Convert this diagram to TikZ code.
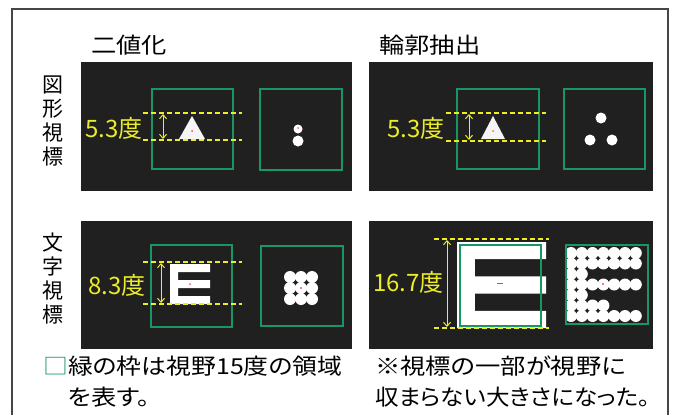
\documentclass[tikz,border=0pt]{standalone}
\usepackage{fontspec}
\setmainfont{Noto Sans CJK JP}[RawFeature=+palt]
\usetikzlibrary{arrows.meta}
\definecolor{panelc}{RGB}{32,32,32}
\definecolor{gfr}{RGB}{24,150,100}
\definecolor{ylw}{RGB}{236,236,40}
\definecolor{framec}{RGB}{70,70,70}
\newcommand{\wide}[2][1.15]{\scalebox{#1}[1]{#2}}
\newcommand{\letterE}[4]{\fill[white,shift={(#1,#2)},xscale=#3,yscale=#4] (0,0) -| (5,1) -| (1,2) -| (5,3) -| (1,4) -| (5,5) -| cycle;}
\tikzset{
  panel/.style={fill=panelc,draw=none,inner sep=0,anchor=north west},
  gsq/.style={draw=gfr,line width=1.8pt,inner sep=0,anchor=north west},
  head/.style={font=\fontsize{22}{26}\selectfont,anchor=west,inner sep=0},
  vlab/.style={font=\fontsize{21}{24}\selectfont,align=center,inner sep=0},
  ylab/.style={font=\fontsize{24}{28}\selectfont,text=ylw,anchor=east,inner sep=0},
  note/.style={font=\fontsize{22}{26}\selectfont,anchor=west,inner sep=0},
  ydash/.style={draw=ylw,line width=1.1pt,dash pattern=on 5pt off 3pt},
  dimarr/.style={draw=ylw,line width=1pt,{Straight Barb[length=4pt,width=7pt]}-{Straight Barb[length=4pt,width=7pt]}},
  dot/.style={fill=white},
}
\begin{document}
\begin{tikzpicture}[x=1pt,y=-1pt]
\useasboundingbox (0,0) rectangle (674,415);
\fill[white] (0,0) rectangle (674,415);
\draw[framec,line width=1.2pt] (12,415) -- (12,9) -- (668,9) -- (668,415);

% headings
\node[head] (h1) at (91,45) {\wide{二値化}};
\node[head] (h2) at (379,45) {\wide{輪郭抽出}};

% row labels
\node[vlab] (v1) at (53,121) {図\\形\\視\\標};
\node[vlab] (v2) at (53,279) {文\\字\\視\\標};

% panels
\node[panel,minimum width=271pt,minimum height=129pt] (p1) at (81,62) {};
\node[panel,minimum width=284pt,minimum height=129pt] (p2) at (369,62) {};
\node[panel,minimum width=271pt,minimum height=128pt] (p3) at (81,221) {};
\node[panel,minimum width=284pt,minimum height=128pt] (p4) at (369,221) {};

% ---------- top-left ----------
\node[gsq,minimum width=81pt,minimum height=80pt] (a1) at (151,88) {};
\node[gsq,minimum width=82pt,minimum height=81pt] (a2) at (259,88) {};
\coordinate (a1u) at (143,113); \coordinate (a1ue) at (242,113);
\coordinate (a1d) at (143,140); \coordinate (a1de) at (242,140);
\draw[ydash] (a1u) -- (a1ue);
\draw[ydash] (a1d) -- (a1de);
\coordinate (a1t) at (163,114); \coordinate (a1b) at (163,139);
\draw[dimarr] (a1t) -- (a1b);
\node[ylab] (l1) at (143,128) {5.3度};
\fill[gray!8] (179,139) -- (192,116) -- (205,139) -- cycle;
\fill[red!70] (192,131) circle (1pt);
\fill[dot] (298,129) circle (4.5pt);
\fill[dot] (298,141) circle (5.5pt);
\fill[red!60] (298,128) circle (1pt);

% ---------- top-right ----------
\node[gsq,minimum width=82pt,minimum height=80pt] (b1) at (456,88) {};
\node[gsq,minimum width=81pt,minimum height=80pt] (b2) at (563,88) {};
\coordinate (b1u) at (446,113); \coordinate (b1ue) at (546,113);
\coordinate (b1d) at (446,141); \coordinate (b1de) at (546,141);
\draw[ydash] (b1u) -- (b1ue);
\draw[ydash] (b1d) -- (b1de);
\coordinate (b1t) at (469,114); \coordinate (b1b) at (469,140);
\draw[dimarr] (b1t) -- (b1b);
\node[ylab] (l2) at (445,128) {5.3度};
\fill[gray!8] (481,139) -- (493,116) -- (505,139) -- cycle;
\fill[red!60] (493,131) circle (1pt);
\fill[dot] (601,118) circle (5.5pt);
\fill[dot] (590,140) circle (5.5pt);
\fill[dot] (612,140) circle (5.5pt);

% ---------- bottom-left ----------
\node[gsq,minimum width=81pt,minimum height=82pt] (c1) at (150,244) {};
\node[gsq,minimum width=82pt,minimum height=80pt] (c2) at (260,245) {};
\letterE{170}{264}{8}{8}
\fill[red!70] (190,284) circle (1pt);
\coordinate (c1u) at (143,262); \coordinate (c1ue) at (242,262);
\coordinate (c1d) at (143,304); \coordinate (c1de) at (242,304);
\draw[ydash] (c1u) -- (c1ue);
\draw[ydash] (c1d) -- (c1de);
\coordinate (c1t) at (161,263); \coordinate (c1b) at (161,303);
\draw[dimarr] (c1t) -- (c1b);
\node[ylab] (l3) at (146,285) {8.3度};
\foreach \i in {0,1,2} \foreach \j in {0,1,2}
  \fill[dot] (290+11*\i,277+11*\j) circle (6pt);
\fill[red!70] (301,288) circle (1.2pt);

% ---------- bottom-right ----------
\letterE{457}{242}{17.8}{17.2}
\node[gsq,minimum width=81pt,minimum height=81pt] (d1) at (459,244) {};
\draw[red!80,line width=1pt] (497,283) -- (503,283);
\coordinate (d1u) at (434,239); \coordinate (d1ue) at (549,239);
\coordinate (d1d) at (434,328); \coordinate (d1de) at (549,328);
\draw[ydash] (d1u) -- (d1ue);
\draw[ydash] (d1d) -- (d1de);
\coordinate (d1t) at (447,240); \coordinate (d1b) at (447,327);
\draw[dimarr] (d1t) -- (d1b);
\node[ylab] (l4) at (444,282) {16.7度};
\foreach \r/\n in {0/6,1/6,2/1,3/6,4/1,5/3,6/6}
  \foreach \i in {0,...,\n}
    \fill[dot] (571+10.8*\i,253+10.5*\r) circle (6pt);
\fill[red!70] (603,284) circle (1.2pt);
\node[gsq,minimum width=82pt,minimum height=79pt] (d2) at (565,244) {};

% ---------- notes ----------
\node[note] (n1) at (43,366) {\wide[1.13]{{\color{gfr}□}緑の枠は視野15度の領域}};
\node[note] (n2) at (68,397) {\wide{を表す。}};
\node[note] (n3) at (375,366) {\wide{※視標の一部が視野に}};
\node[note] (n4) at (375,397) {\wide[1.07]{収まらない大きさになった。}};
\end{tikzpicture}
\end{document}
